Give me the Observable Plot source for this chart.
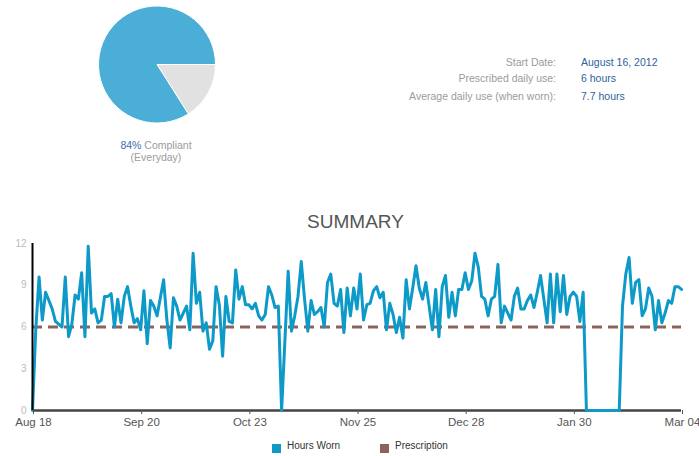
<!DOCTYPE html>
<html>
<head>
<meta charset="utf-8">
<script src="https://cdn.jsdelivr.net/npm/d3@7"></script>
<script src="https://cdn.jsdelivr.net/npm/@observablehq/plot@0.6"></script>
<style>
  html, body { margin: 0; padding: 0; background: #fff; }
  #page { position: relative; width: 699px; height: 456px; overflow: hidden; font-family: "Liberation Sans", Arial, sans-serif; }
  .abs { position: absolute; white-space: nowrap; }
  .lbl { color: #9b9b9b; font-size: 10.5px; }
  .val { color: #2f5f9c; font-size: 10.5px; }
</style>
</head>
<body>
<div id="page"></div>
<script>
// ---------- data ----------
const startDate = "2012-08-18";
const hoursWorn = [
  0, 5.8, 9.6, 6.5, 8.5, 7.9, 7.3, 6.4, 6.2, 6.0,
  9.6, 5.3, 6.2, 8.3, 8.0, 9.9, 5.3, 11.8, 7.0, 7.3,
  6.3, 6.5, 8.2, 8.2, 8.4, 6.0, 8.0, 6.3, 8.2, 8.9,
  7.5, 6.3, 6.6, 5.8, 8.6, 4.8, 7.9, 7.5, 6.8, 8.1,
  9.4, 6.5, 4.5, 8.1, 7.5, 6.5, 7.0, 7.5, 5.8, 11.3,
  7.7, 8.5, 5.7, 6.3, 4.4, 5.0, 8.9, 7.6, 3.9, 8.2,
  6.4, 6.3, 10.1, 8.0, 8.9, 7.6, 7.6, 7.3, 7.7, 6.8,
  6.5, 6.9, 8.9, 8.3, 7.4, 7.5, 0, 5.0, 10.0, 5.7,
  6.8, 8.2, 10.7, 8.0, 5.7, 7.9, 6.9, 7.1, 7.4, 6.0,
  9.2, 9.8, 7.7, 7.5, 8.7, 5.6, 8.8, 6.8, 8.8, 7.3,
  9.8, 6.5, 7.6, 7.7, 8.6, 8.9, 8.1, 8.5, 5.8, 7.7,
  6.9, 5.6, 6.7, 5.2, 9.4, 7.3, 8.8, 10.4, 8.8, 8.0,
  9.2, 7.5, 5.8, 8.7, 5.3, 8.9, 9.7, 6.7, 8.5, 6.8,
  8.7, 8.7, 9.9, 8.7, 9.3, 11.3, 10.3, 8.2, 8.0, 6.8,
  8.0, 8.2, 10.5, 6.3, 7.5, 7.0, 6.5, 8.2, 8.8, 7.3,
  7.3, 7.9, 8.3, 7.4, 8.5, 9.7, 8.0, 6.3, 9.8, 6.3,
  9.8, 7.1, 9.7, 6.9, 8.2, 8.5, 8.2, 6.4, 8.5, 0,
  0, 0, 0, 0, 0, 0, 0, 0, 0, 0,
  7.5, 9.8, 11.0, 7.7, 9.2, 9.4, 6.8, 7.3, 8.8, 8.2,
  5.8, 7.9, 6.3, 7.0, 7.9, 7.7, 8.9, 8.9, 8.7
];
const prescription = 6;
const xTickDates = ["2012-08-18", "2012-09-20", "2012-10-23", "2012-11-25", "2012-12-28", "2013-01-30", "2013-03-04"];
const yTicks = [0, 3, 6, 9, 12];
const pieCategories = ["Non-compliant", "Compliant"];
const pieValues = [16, 84];
const pieColors = ["#e1e1e1", "#4aaed6"];
const compliancePct = "84%";
const infoLabels = ["Start Date:", "Prescribed daily use:", "Average daily use (when worn):"];
const infoValues = ["August 16, 2012", "6 hours", "7.7 hours"];
const legendLabels = ["Hours Worn", "Prescription"];
const legendColors = ["#0d9ac8", "#8b625e"];
const titleText = "SUMMARY";

// ---------- layout ----------
const page = document.getElementById("page");
function addDiv(html, cls, style) {
  const d = document.createElement("div");
  d.className = "abs " + (cls || "");
  d.innerHTML = html;
  Object.assign(d.style, style);
  page.appendChild(d);
  return d;
}

// Pie (d3 layout)
const pieSvg = d3.select(page).append("svg")
  .attr("width", 140).attr("height", 140)
  .style("position", "absolute").style("left", "87px").style("top", "-5px");
const arcs = d3.pie().sort(null).startAngle(Math.PI / 2).endAngle(Math.PI / 2 + 2 * Math.PI)(pieValues);
pieSvg.append("g").attr("transform", "translate(70,69.5)")
  .selectAll("path").data(arcs).join("path")
  .attr("d", d3.arc().innerRadius(0).outerRadius(58.5))
  .attr("fill", (d, i) => pieColors[i])
  .attr("stroke", "#fff").attr("stroke-width", 1);

addDiv(`<span style="color:#3a6ea8">${compliancePct}</span> Compliant`, "lbl", {left: "106px", width: "100px", textAlign: "center", top: "139px", fontSize: "10.5px"});
addDiv(`(Everyday)`, "lbl", {left: "106px", width: "100px", textAlign: "center", top: "151px", fontSize: "10.5px"});

// Info rows
const rowY = [56, 72, 89.5];
infoLabels.forEach((t, i) => {
  addDiv(t, "lbl", {right: (699 - 556) + "px", top: rowY[i] + "px", textAlign: "right"});
  addDiv(infoValues[i], "val", {left: "581px", top: rowY[i] + "px"});
});

// Title
addDiv(titleText, "", {left: "0px", width: "711px", textAlign: "center", top: "211px", fontSize: "19px", color: "#555"});

// Chart
const data = hoursWorn.map((h, i) => ({date: d3.utcDay.offset(new Date(startDate), i), hours: h}));
const xDomain = [new Date(xTickDates[0]), new Date(xTickDates[xTickDates.length - 1])];
const chart = Plot.plot({
  width: 699,
  height: 200,
  marginLeft: 32,
  marginRight: 18,
  marginTop: 8,
  marginBottom: 25,
  x: {type: "utc", domain: xDomain},
  y: {domain: [0, 12]},
  style: {fontFamily: "Liberation Sans, Arial, sans-serif", background: "transparent", overflow: "visible"},
  marks: [
    Plot.ruleY([0], {stroke: "#444", strokeWidth: 2.5}),
    Plot.ruleY([prescription], {stroke: legendColors[1], strokeWidth: 3, strokeDasharray: "10,6"}),
    Plot.line(data, {x: "date", y: "hours", stroke: legendColors[0], strokeWidth: 3, strokeLinejoin: "round"}),
    Plot.ruleX([xDomain[0]], {x: d => d, y1: 0, y2: 12, stroke: "#000", strokeWidth: 2}),
    Plot.axisY({ticks: yTicks, tickSize: 0, tickPadding: 6, color: "#bbb", fontSize: 10, label: null}),
    Plot.axisX({ticks: xTickDates.map(d => new Date(d)), tickFormat: d3.utcFormat("%b %d"), tickSize: 4, tickPadding: 3, color: "#555", fontSize: 11.5, label: null, dx: 1})
  ]
});
chart.style.position = "absolute";
chart.style.left = "0px";
chart.style.top = "235px";
page.appendChild(chart);

// Legend
const legendX = [272, 380];
legendLabels.forEach((t, i) => {
  addDiv("", "", {left: legendX[i] + "px", top: "444px", width: "9px", height: "9px", background: legendColors[i]});
  addDiv(t, "", {left: (legendX[i] + 15) + "px", top: "440px", fontSize: "10px", color: "#333"});
});
</script>
</body>
</html>
